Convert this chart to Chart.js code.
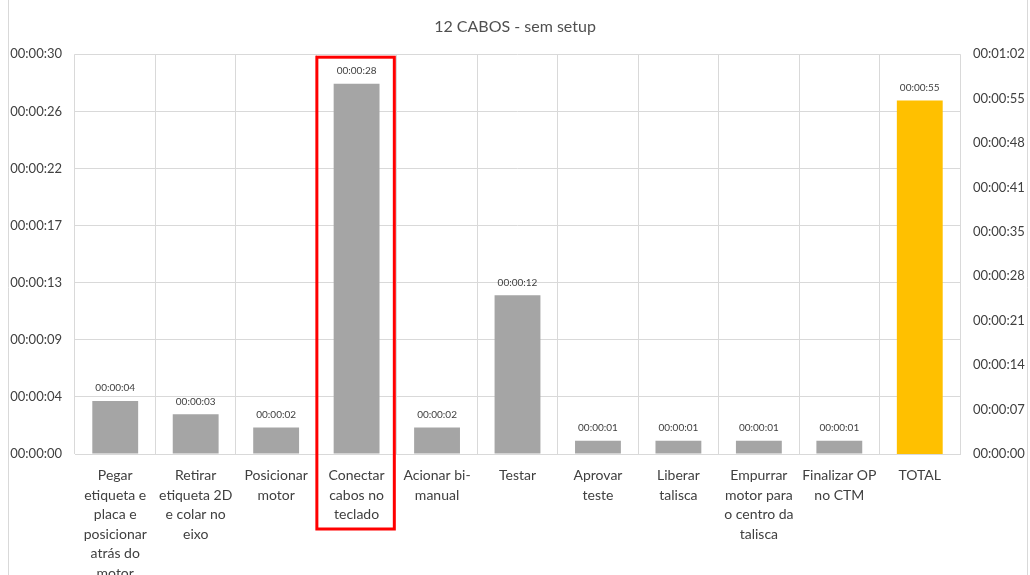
<!DOCTYPE html>
<html>
<head>
<meta charset="utf-8">
<script src="https://cdn.jsdelivr.net/npm/chart.js@4.4.1/dist/chart.umd.min.js"></script>
<style>
  html, body { margin: 0; padding: 0; background: #ffffff; }
  #wrap { position: relative; width: 1030px; height: 575px; }
</style>
</head>
<body>
<div id="wrap"><canvas id="c" width="1030" height="575"></canvas></div>
<script>
// Etapas do processo (rótulos em várias linhas)
const categorias = [
  ["Pegar", "etiqueta e", "placa e", "posicionar", "atrás do", "motor"],
  ["Retirar", "etiqueta 2D", "e colar no", "eixo"],
  ["Posicionar", "motor"],
  ["Conectar", "cabos no", "teclado"],
  ["Acionar bi-", "manual"],
  ["Testar"],
  ["Aprovar", "teste"],
  ["Liberar", "talisca"],
  ["Empurrar", "motor para", "o centro da", "talisca"],
  ["Finalizar OP", "no CTM"],
  ["TOTAL"]
];

// Tempo de cada etapa, em segundos (null na coluna TOTAL)
const temposEtapas = [4, 3, 2, 28, 2, 12, 1, 1, 1, 1, null];
// Tempo total, em segundos, no eixo secundário
const tempoTotal = [null, null, null, null, null, null, null, null, null, null, 55];

// Escalas: eixo principal 0..30,24 s (passo 4,32 s), secundário 0..62,208 s (passo 6,912 s)
const eixoPrincipalTicks = [0, 4.32, 8.64, 12.96, 17.28, 21.6, 25.92, 30.24];
const eixoSecundarioTicks = [0, 6.912, 13.824, 20.736, 27.648, 34.56, 41.472, 48.384, 55.296, 62.208];

const etapaDestacada = 3;

function hms(seg) {
  const t = Math.round(seg);
  const h = Math.floor(t / 3600), m = Math.floor((t % 3600) / 60), s = t % 60;
  const p = n => String(n).padStart(2, '0');
  return p(h) + ':' + p(m) + ':' + p(s);
}

const FONTE = 'Lato, "Open Sans", sans-serif';
const COR_TEXTO = '#404040';
const COR_TITULO = '#505050';
const COR_GRADE = '#d9d9d9';

// Rótulos de valor acima das barras, moldura do gráfico e destaque vermelho
const extras = {
  id: 'extras',
  beforeDraw(chart) {
    const ctx = chart.ctx;
    ctx.save();
    ctx.strokeStyle = COR_GRADE;
    ctx.lineWidth = 1;
    ctx.beginPath();
    ctx.moveTo(8.5, 0); ctx.lineTo(8.5, chart.height);
    ctx.moveTo(1027.5, 0); ctx.lineTo(1027.5, chart.height);
    ctx.stroke();
    ctx.restore();
  },
  afterDatasetsDraw(chart) {
    const ctx = chart.ctx;
    ctx.save();
    ctx.font = '10px ' + FONTE;
    ctx.fillStyle = '#404040';
    ctx.textAlign = 'center';
    ctx.textBaseline = 'middle';
    chart.data.datasets.forEach((ds, di) => {
      const meta = chart.getDatasetMeta(di);
      meta.data.forEach((bar, i) => {
        const v = ds.data[i];
        if (v === null || v === undefined) return;
        ctx.fillText(hms(v), bar.x, bar.y - 13);
      });
    });
    // moldura vermelha em torno da etapa destacada
    const x = chart.scales.x;
    const larg = x.width / categorias.length;
    const cx = x.getPixelForValue(etapaDestacada);
    ctx.strokeStyle = '#ff0000';
    ctx.lineWidth = 3;
    ctx.strokeRect(cx - larg / 2 + 0.5, chart.chartArea.top + 3, larg - 3, chart.chartArea.bottom - chart.chartArea.top + 72);
    ctx.restore();
  }
};

new Chart(document.getElementById('c'), {
  type: 'bar',
  data: {
    labels: categorias,
    datasets: [
      {
        label: 'Tempo por etapa',
        data: temposEtapas,
        backgroundColor: '#a5a5a5',
        yAxisID: 'y',
        grouped: false,
        barPercentage: 0.57,
        categoryPercentage: 1.0
      },
      {
        label: 'Total',
        data: tempoTotal,
        backgroundColor: '#ffc000',
        yAxisID: 'y2',
        grouped: false,
        barPercentage: 0.57,
        categoryPercentage: 1.0
      }
    ]
  },
  options: {
    responsive: false,
    animation: false,
    devicePixelRatio: 1,
    layout: { padding: { left: 0, right: 0, top: 0, bottom: 0 } },
    plugins: {
      legend: { display: false },
      tooltip: { enabled: false },
      title: {
        display: true,
        text: '12 CABOS - sem setup',
        color: COR_TITULO,
        font: { family: FONTE, size: 16, weight: 'normal' },
        padding: { top: 17, bottom: 18 }
      }
    },
    scales: {
      x: {
        grid: { color: COR_GRADE, offset: true, drawTicks: false },
        border: { color: COR_GRADE },
        ticks: {
          color: COR_TEXTO,
          font: { family: FONTE, size: 14, lineHeight: '19.5px' },
          maxRotation: 0,
          minRotation: 0,
          autoSkip: false,
          padding: 12
        },
        afterFit(s) { s.height = 121; }
      },
      y: {
        position: 'left',
        min: 0,
        max: 30.24,
        grid: { color: COR_GRADE, drawTicks: false },
        border: { display: false },
        ticks: {
          color: COR_TEXTO,
          font: { family: FONTE, size: 13 },
          padding: 13,
          callback: v => hms(v)
        },
        afterBuildTicks(s) { s.ticks = eixoPrincipalTicks.map(v => ({ value: v })); },
        afterFit(s) { s.width = 75; }
      },
      y2: {
        position: 'right',
        min: 0,
        max: 62.208,
        grid: { display: false, drawTicks: false },
        border: { display: false },
        ticks: {
          color: COR_TEXTO,
          font: { family: FONTE, size: 13 },
          padding: 13,
          callback: v => hms(v)
        },
        afterBuildTicks(s) { s.ticks = eixoSecundarioTicks.map(v => ({ value: v })); },
        afterFit(s) { s.width = 70; }
      }
    }
  },
  plugins: [extras]
});
</script>
</body>
</html>
